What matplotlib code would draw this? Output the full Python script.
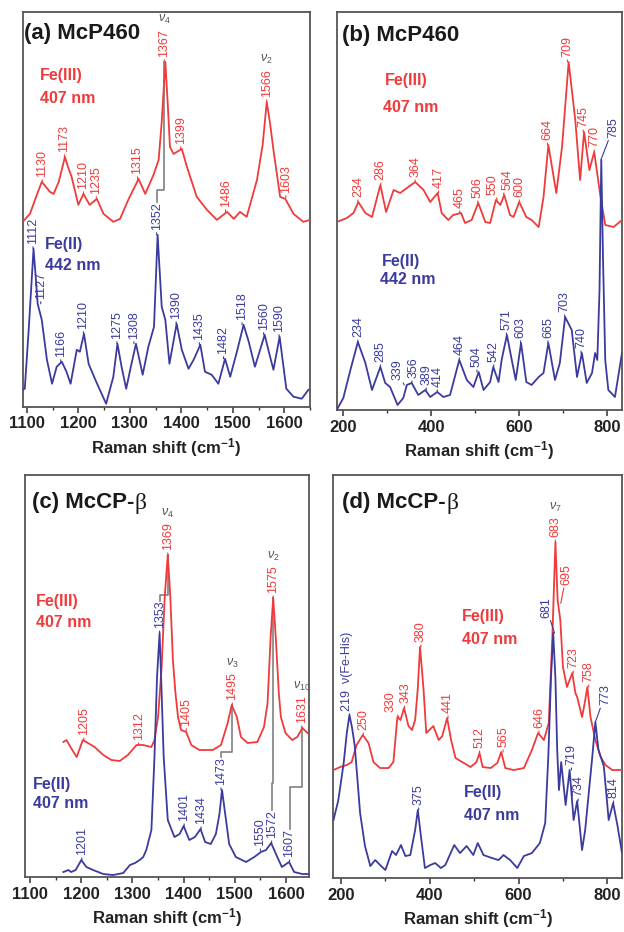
import numpy as np
import matplotlib
matplotlib.use('Agg')
import matplotlib.pyplot as plt

plt.rcParams['font.family'] = ['Liberation Sans', 'DejaVu Sans']
plt.rcParams['mathtext.fontset'] = 'custom'
plt.rcParams['mathtext.rm'] = 'Liberation Sans'
plt.rcParams['mathtext.it'] = 'Liberation Sans:italic'
plt.rcParams['mathtext.bf'] = 'Liberation Sans:bold'

RED = '#ef3b3b'
BLUE = '#3b3b9e'
GRAY = '#808080'

# ---------------- data (Raman shift cm-1, intensity a.u.) ----------------
# (a) McP460 high-frequency region
a_fe3_x = [1092, 1106, 1118, 1129, 1137, 1145, 1152, 1162, 1174, 1180, 1187, 1200, 1210, 1222, 1236, 1249,
           1268, 1281, 1297, 1317, 1330, 1346, 1356, 1362, 1369, 1374, 1378, 1385, 1401, 1411, 1430, 1450,
           1469, 1489, 1502, 1514, 1527, 1547, 1558, 1566, 1572, 1579, 1592, 1602, 1618, 1637, 1650]
a_fe3_y = [185, 193, 210, 225, 220, 215, 213, 225, 250, 240, 230, 202, 213, 202, 208, 193,
           185, 188, 207, 228, 213, 232, 247, 285, 345, 300, 260, 253, 258, 240, 210, 197,
           187, 195, 188, 195, 190, 227, 262, 305, 285, 257, 210, 208, 193, 185, 187]
a_fe2_x = [1092, 1096, 1104, 1113, 1118, 1121, 1129, 1139, 1149, 1158, 1168, 1177, 1185, 1197, 1203, 1211,
           1220, 1233, 1254, 1268, 1276, 1284, 1293, 1302, 1312, 1325, 1336, 1347, 1354, 1362, 1369, 1377,
           1391, 1401, 1414, 1424, 1437, 1446, 1459, 1472, 1485, 1495, 1508, 1521, 1531, 1543, 1562, 1570,
           1579, 1591, 1604, 1618, 1634, 1647]
a_fe2_y = [17, 18, 80, 158, 125, 103, 87, 47, 23, 40, 45, 35, 23, 57, 55, 73,
           43, 27, 3, 30, 63, 40, 18, 40, 63, 32, 60, 80, 172, 100, 87, 43,
           83, 57, 38, 47, 62, 35, 32, 23, 48, 30, 55, 82, 65, 40, 72, 55,
           37, 70, 18, 10, 8, 17]
a_fe3_peaks = [1130, 1173, 1210, 1235, 1315, 1367, 1399, 1486, 1566, 1603]
a_fe2_peaks = [1112, 1127, 1166, 1210, 1275, 1308, 1352, 1390, 1435, 1482, 1518, 1560, 1590]

# (b) McP460 low-frequency region
b_fe3_x = [186, 209, 224, 235, 251, 266, 285, 298, 315, 330, 345, 364, 383, 398, 415, 424,
           439, 450, 468, 477, 492, 507, 523, 534, 547, 557, 566, 579, 587, 600, 616, 628,
           644, 655, 666, 684, 697, 712, 727, 738, 747, 759, 770, 783, 795, 814, 833]
b_fe3_y = [188, 192, 197, 208, 197, 193, 225, 198, 220, 217, 222, 228, 220, 208, 217, 197,
           190, 195, 197, 187, 190, 207, 188, 187, 210, 205, 215, 195, 193, 208, 193, 190,
           183, 213, 265, 217, 263, 348, 290, 230, 278, 240, 258, 217, 185, 183, 190]
b_fe2_x = [186, 201, 217, 234, 251, 266, 285, 296, 307, 324, 337, 345, 356, 371, 387, 398,
           414, 428, 443, 464, 481, 496, 508, 519, 534, 541, 553, 560, 572, 583, 592, 604,
           616, 628, 644, 655, 666, 681, 692, 704, 719, 731, 742, 753, 765, 772, 777, 782,
           786, 790, 795, 802, 817, 833]
b_fe2_y = [0, 12, 40, 68, 47, 20, 43, 27, 23, 5, 12, 25, 27, 15, 20, 13,
           18, 13, 15, 50, 30, 23, 38, 20, 28, 43, 28, 50, 75, 50, 30, 67,
           28, 25, 33, 37, 67, 30, 47, 93, 80, 33, 57, 27, 37, 57, 50, 120,
           250, 150, 50, 20, 13, 57]
b_fe3_peaks = [234, 286, 364, 417, 465, 506, 550, 564, 600, 664, 709, 745, 770]
b_fe2_peaks = [234, 285, 339, 356, 389, 414, 464, 504, 542, 571, 603, 665, 703, 740, 785]

# (c) McCP-beta high-frequency region
c_fe3_x = [1165, 1171, 1180, 1191, 1203, 1213, 1226, 1243, 1259, 1275, 1291, 1308, 1321, 1337, 1343, 1350,
           1357, 1363, 1369, 1374, 1379, 1384, 1389, 1395, 1405, 1415, 1431, 1457, 1473, 1486, 1494, 1504,
           1512, 1525, 1544, 1557, 1564, 1570, 1575, 1580, 1586, 1590, 1599, 1612, 1622, 1632, 1642]
c_fe3_y = [135, 137, 129, 120, 137, 134, 130, 122, 117, 116, 122, 132, 132, 130, 137, 160,
           210, 280, 322, 280, 217, 184, 160, 147, 145, 132, 127, 127, 132, 154, 172, 160,
           140, 134, 135, 150, 174, 240, 279, 240, 184, 160, 144, 137, 140, 149, 144]
c_fe2_x = [1165, 1175, 1180, 1189, 1200, 1210, 1223, 1243, 1262, 1282, 1295, 1305, 1314, 1321, 1327, 1337,
           1343, 1348, 1353, 1357, 1361, 1369, 1382, 1392, 1400, 1411, 1422, 1433, 1442, 1453, 1463, 1470,
           1475, 1482, 1489, 1502, 1522, 1538, 1551, 1561, 1571, 1583, 1592, 1606, 1616, 1632, 1645]
c_fe2_y = [5, 7, 5, 7, 17, 10, 7, 3, 2, 4, 12, 14, 17, 20, 27, 47,
           120, 200, 244, 184, 120, 57, 40, 43, 51, 37, 40, 48, 35, 33, 43, 63,
           87, 60, 33, 20, 15, 20, 25, 27, 34, 20, 10, 15, 5, 3, 3]
c_fe3_peaks = [1205, 1312, 1369, 1405, 1495, 1575, 1631]
c_fe2_peaks = [1201, 1353, 1401, 1434, 1473, 1550, 1572, 1607]

# (d) McCP-beta low-frequency region
d_fe3_x = [183, 198, 213, 224, 235, 249, 262, 273, 288, 307, 318, 327, 334, 342, 352, 360,
           367, 373, 378, 382, 386, 392, 408, 420, 428, 439, 448, 458, 473, 492, 505, 512,
           519, 537, 552, 561, 570, 589, 612, 630, 644, 657, 668, 676, 683, 688, 694, 700,
           709, 721, 728, 732, 743, 749, 755, 762, 773, 785, 796, 811, 833]
d_fe3_y = [108, 111, 113, 116, 133, 143, 135, 116, 110, 110, 116, 161, 158, 170, 152, 148,
           158, 190, 231, 210, 188, 145, 152, 138, 142, 160, 138, 120, 116, 111, 116, 125,
           111, 110, 115, 126, 110, 108, 110, 128, 145, 138, 155, 240, 336, 278, 258, 211,
           191, 205, 185, 181, 161, 175, 191, 161, 138, 121, 113, 108, 108]
d_fe2_x = [183, 194, 206, 213, 219, 225, 231, 243, 254, 266, 277, 288, 300, 315, 324, 335,
           345, 356, 367, 373, 380, 389, 401, 412, 425, 435, 455, 468, 483, 498, 508, 521,
           540, 555, 566, 581, 597, 612, 630, 648, 660, 667, 673, 678, 683, 687, 691, 696,
           706, 715, 724, 732, 743, 750, 766, 773, 780, 792, 803, 813, 823, 833]
d_fe2_y = [58, 78, 115, 145, 163, 150, 132, 65, 32, 12, 18, 13, 8, 27, 23, 33,
           22, 23, 48, 68, 42, 10, 13, 15, 10, 13, 33, 25, 32, 23, 35, 23,
           20, 18, 23, 18, 10, 22, 25, 35, 55, 122, 200, 245, 200, 128, 88, 116,
           73, 108, 58, 77, 28, 48, 121, 156, 128, 112, 58, 75, 52, 25]
d_fe3_peaks = [250, 330, 343, 380, 441, 512, 565, 646, 683, 695, 723, 758]
d_fe2_peaks = [219, 375, 681, 719, 734, 773, 814]

# ---------------- figure ----------------
fig = plt.figure(figsize=(6.24, 9.32), dpi=100)

panels = {
    'a': dict(rect=[0.0364, 0.5636, 0.4604, 0.4235], xlim=(1092, 1650), ylim=(0, 395),
              major=100, minor=50, title='(a) McP460', tpos=(0.004, 0.972)),
    'b': dict(rect=[0.5396, 0.5601, 0.4572, 0.4270], xlim=(186, 833), ylim=(0, 398),
              major=200, minor=100, title='(b) McP460', tpos=(0.017, 0.967)),
    'c': dict(rect=[0.0401, 0.0590, 0.4551, 0.4313], xlim=(1090, 1645), ylim=(0, 402),
              major=100, minor=50, title='(c) McCP-', tpos=(0.024, 0.958)),
    'd': dict(rect=[0.5337, 0.0579, 0.4631, 0.4324], xlim=(182, 833), ylim=(0, 403),
              major=200, minor=100, title='(d) McCP-', tpos=(0.030, 0.958)),
}

axes = {}
for k, p in panels.items():
    ax = fig.add_axes(p['rect'])
    ax.set_xlim(*p['xlim'])
    ax.set_ylim(*p['ylim'])
    ax.set_yticks([])
    ax.xaxis.set_major_locator(matplotlib.ticker.MultipleLocator(p['major']))
    ax.xaxis.set_minor_locator(matplotlib.ticker.MultipleLocator(p['minor']))
    ax.tick_params(axis='x', which='major', length=4, width=1.1, direction='out',
                   labelsize=12, pad=3, colors='#333333', labelcolor='#222222')
    ax.tick_params(axis='x', which='minor', length=2.5, width=1.0, direction='out', colors='#333333')
    for lbl in ax.get_xticklabels():
        lbl.set_fontweight('bold')
    for s in ax.spines.values():
        s.set_color('#555555')
        s.set_linewidth(1.3)
    ax.set_xlabel('Raman shift (cm$^{\\mathbf{-1}}$)', fontsize=12, fontweight='bold',
                  labelpad=3, color='#222222')
    t = ax.text(p['tpos'][0], p['tpos'][1], p['title'], transform=ax.transAxes, fontsize=16,
                fontweight='bold', va='top', ha='left', color='#1a1a1a')
    if k in ('c', 'd'):
        ax.annotate('β', xy=(1, 0), xycoords=t, xytext=(0.5, -1), textcoords='offset points',
                    va='bottom', ha='left', fontsize=17, color='#1a1a1a',
                    family=['Liberation Serif', 'DejaVu Serif'])
    axes[k] = ax


def peak_height(xs, ys, p):
    win = np.linspace(p - 6, p + 6, 25)
    return float(np.interp(win, xs, ys).max())


def label_peaks(ax, xs, ys, peaks, color, offsets=None, texts=None):
    offsets = offsets or {}
    texts = texts or {}
    arts = {}
    for p in peaks:
        h = peak_height(xs, ys, p)
        dx, dy = offsets.get(p, (0, 3.5))
        t = ax.annotate(texts.get(p, str(p)), xy=(p, h), xytext=(dx, dy),
                        textcoords='offset points', rotation=90, ha='center', va='bottom',
                        fontsize=9, color=color,
                        arrowprops=dict(arrowstyle='-', color=color, lw=0.8,
                                        shrinkA=0, shrinkB=0))
        arts[p] = (t, h)
    return arts


def fe_text(ax, x, y, s, color):
    ax.text(x, y, s, transform=ax.transAxes, color=color, fontsize=11.5,
            fontweight='bold', ha='left', va='center')


traces = {
    'a': (a_fe3_x, a_fe3_y, a_fe2_x, a_fe2_y, a_fe3_peaks, a_fe2_peaks),
    'b': (b_fe3_x, b_fe3_y, b_fe2_x, b_fe2_y, b_fe3_peaks, b_fe2_peaks),
    'c': (c_fe3_x, c_fe3_y, c_fe2_x, c_fe2_y, c_fe3_peaks, c_fe2_peaks),
    'd': (d_fe3_x, d_fe3_y, d_fe2_x, d_fe2_y, d_fe3_peaks, d_fe2_peaks),
}

red_off = {'b': {550: (-3.5, 3.5), 564: (3, 3.5)},
           'd': {330: (-6, 3.5), 343: (0.5, 3.5), 695: (4, 13)}}
blue_off = {'b': {339: (-5, 3.5), 356: (1.5, 3.5), 785: (9, 16)},
            'd': {681: (-6, 11), 773: (7, 12), 219: (-2, 3)}}
blue_txt = {'d': {219: '219  ν(Fe-His)'}}

labels = {}
for k, (rx, ry, bx, by, rp, bp) in traces.items():
    ax = axes[k]
    ax.plot(rx, ry, color=RED, lw=1.3, zorder=3)
    ax.plot(bx, by, color=BLUE, lw=1.3, zorder=4)
    labels[k] = (label_peaks(ax, rx, ry, rp, RED, red_off.get(k)),
                 label_peaks(ax, bx, by, bp, BLUE, blue_off.get(k), blue_txt.get(k)))

# Fe state / excitation text
fe = {
    'a': [(0.060, 0.838, 'Fe(III)', RED), (0.060, 0.782, '407 nm', RED),
          (0.078, 0.410, 'Fe(II)', BLUE), (0.078, 0.359, '442 nm', BLUE)],
    'b': [(0.169, 0.829, 'Fe(III)', RED), (0.163, 0.761, '407 nm', RED),
          (0.158, 0.372, 'Fe(II)', BLUE), (0.152, 0.329, '442 nm', BLUE)],
    'c': [(0.039, 0.685, 'Fe(III)', RED), (0.039, 0.632, '407 nm', RED),
          (0.029, 0.229, 'Fe(II)', BLUE), (0.029, 0.184, '407 nm', BLUE)],
    'd': [(0.445, 0.648, 'Fe(III)', RED), (0.445, 0.591, '407 nm', RED),
          (0.453, 0.213, 'Fe(II)', BLUE), (0.453, 0.156, '407 nm', BLUE)],
}
for k, items in fe.items():
    for x, y, s, c in items:
        fe_text(axes[k], x, y, s, c)

# mode assignments above Fe(III) labels
modes = {'a': [(1367, r'$\nu_4$'), (1566, r'$\nu_2$')],
         'c': [(1369, r'$\nu_4$'), (1495, r'$\nu_3$'), (1575, r'$\nu_2$'), (1631, r'$\nu_{10}$')],
         'd': [(683, r'$\nu_7$')]}
for k, items in modes.items():
    for p, s in items:
        t = labels[k][0][p][0]
        axes[k].annotate(s, xy=(0.5, 1), xycoords=t, xytext=(0, 2), textcoords='offset points',
                         ha='center', va='bottom', fontsize=9, color='#555555')

# gray connectors Fe(II) label -> Fe(III) peak
fig.canvas.draw()
brackets = {'a': [(1352, 1367, 8.5)],
            'c': [(1353, 1369, 4), (1473, 1495, 4), (1572, 1575, 20), (1607, 1631, 30)]}
for k, items in brackets.items():
    ax = axes[k]
    inv = ax.transData.inverted()
    for bpk, rpk, step in items:
        t, _ = labels[k][1][bpk]
        bb = t.get_window_extent()
        y0 = inv.transform((0, bb.y1))[1]
        y1 = inv.transform((0, bb.y1 + step * fig.dpi / 72))[1]
        rh = labels[k][0][rpk][1]
        ax.plot([bpk, bpk, rpk, rpk], [y0, y1, y1, rh], color=GRAY, lw=1.2, zorder=2)

fig.savefig('out.png', dpi=100)
